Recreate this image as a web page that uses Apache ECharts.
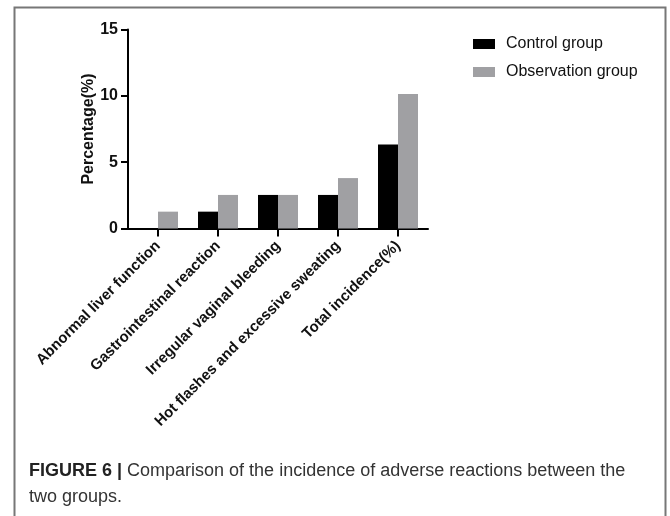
<!DOCTYPE html>
<html><head><meta charset="utf-8">
<script src="https://cdn.jsdelivr.net/npm/echarts@6/dist/echarts.min.js"></script>
<style>html,body{margin:0;padding:0;background:#fff}#c{width:670px;height:516px}</style>
</head><body><div id="c"></div>
<script>
var categories = ["Abnormal liver function", "Gastrointestinal reaction", "Irregular vaginal bleeding", "Hot flashes and excessive sweating", "Total incidence(%)"];
var controlValues = [0, 1.27, 2.53, 2.53, 6.33];
var observationValues = [1.27, 2.53, 2.53, 3.80, 10.13];
var seriesNames = ["Control group", "Observation group"];
var yTicks = [0, 5, 10, 15];
var yAxisTitle = "Percentage(%)";
var captionBold = "FIGURE 6 |";
var captionLine1 = " Comparison of the incidence of adverse reactions between the";
var captionLine2 = "two groups.";

var chart = echarts.init(document.getElementById('c'), null, {renderer: 'canvas'});
var font = "Liberation Sans, Arial, sans-serif";
chart.setOption({
  animation: false,
  backgroundColor: '#fff',
  grid: {left: 128, right: 242, top: 29.5, bottom: 287.5, containLabel: false},
  legend: {
    orient: 'vertical', left: 473, top: 35, padding: 0, itemWidth: 22, itemHeight: 10, itemGap: 10,
    icon: 'rect',
    textStyle: {fontFamily: font, fontSize: 16, color: '#111', padding: [0, 0, 0, 6], lineHeight: 18},
    data: seriesNames
  },
  xAxis: {
    type: 'category', data: categories,
    axisLine: {lineStyle: {color: '#000', width: 2}},
    axisTick: {show: true, alignWithLabel: true, length: 8, lineStyle: {color: '#000', width: 2}},
    axisLabel: {interval: 0, rotate: 45, margin: 15, fontFamily: font, fontSize: 15, fontWeight: 'bold', color: '#111'}
  },
  yAxis: {
    type: 'value', min: yTicks[0], max: yTicks[yTicks.length - 1], interval: 5,
    name: yAxisTitle, nameLocation: 'middle', nameGap: 30,
    nameTextStyle: {fontFamily: font, fontSize: 16, fontWeight: 'bold', color: '#111'},
    axisLine: {show: true, lineStyle: {color: '#000', width: 2}},
    axisTick: {show: true, length: 7, lineStyle: {color: '#000', width: 2}},
    axisLabel: {margin: 10, fontFamily: font, fontSize: 16, fontWeight: 'bold', color: '#111'},
    splitLine: {show: false}
  },
  series: [
    {name: seriesNames[0], type: 'bar', data: controlValues, barWidth: 20, barGap: '0%', itemStyle: {color: '#000'}},
    {name: seriesNames[1], type: 'bar', data: observationValues, barWidth: 20, barGap: '0%', itemStyle: {color: '#a0a0a3'}}
  ],
  graphic: [
    {type: 'polyline', shape: {points: [[14.5, 516], [14.5, 7.5], [665.5, 7.5], [665.5, 516]]}, style: {stroke: '#777', lineWidth: 2, fill: null}, silent: true},
    {type: 'text', left: 29, top: 462, style: {
      text: '{b|' + captionBold + '}{r|' + captionLine1 + '}',
      rich: {
        b: {fontFamily: font, fontSize: 18, fontWeight: 'bold', fill: '#222'},
        r: {fontFamily: font, fontSize: 18, fill: '#333'}
      }}},
    {type: 'text', left: 29, top: 488, style: {text: captionLine2, fontFamily: font, fontSize: 18, fill: '#333'}}
  ]
});
</script></body></html>
